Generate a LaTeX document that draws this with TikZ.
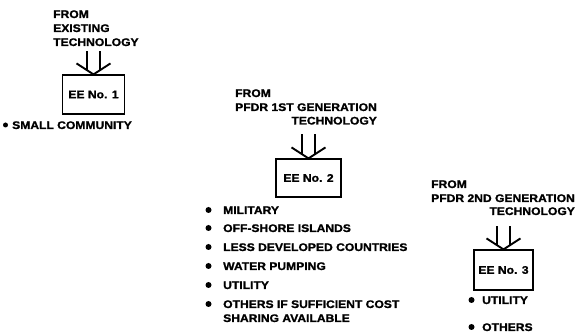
\documentclass[tikz,border=0pt]{standalone}
\usepackage{fontspec}
\setmainfont{Liberation Sans}[BoldFeatures={FakeStretch=1.1,FakeBold=1.3}]
\usetikzlibrary{calc}
\tikzset{
  txt/.style={anchor=west,inner sep=0pt,text height=8pt,text depth=0pt,font=\fontsize{11}{13}\bfseries},
  eebox/.style={draw,line width=1.2pt,inner sep=0pt,font=\fontsize{11}{13}\bfseries},
  dot/.style={circle,fill,inner sep=0pt,minimum size=#1},
  dot/.default=6pt,
  shaft/.style={line width=1.9pt,line cap=butt,line join=miter}
}
% double feed arrow ending on the top of a box
\newcommand\feedarrow[2]{%
  \draw[shaft] ($(#1.north)+(-6.5,-4.2)$) -- ++(0,-#2);
  \draw[shaft] ($(#1.north)+(6.5,-4.2)$) -- ++(0,-#2);
  \draw[shaft] ($(#1.north)+(-17,-11)$) -- (#1.north) -- ($(#1.north)+(17,-11)$);
}
\begin{document}
\begin{tikzpicture}[x=1pt,y=-1pt]
\useasboundingbox (0,0) rectangle (578,336);

% --- existing technology ---
\node[txt] (h1a) at (53,14) {FROM};
\node[txt] (h1b) at (53,28) {EXISTING};
\node[txt] (h1c) at (53,42) {TECHNOLOGY};
\node[eebox,minimum width=62pt,minimum height=39pt] (ee1) at (93.5,94.5) {EE No. 1};
\feedarrow{ee1}{19}
\node[dot=5pt] (d1) at (5.5,125) {};
\node[txt] (i1) at (12,125) {SMALL COMMUNITY};

% --- PFDR 1st generation ---
\node[txt] (h2a) at (235,93) {FROM};
\node[txt] (h2b) at (235,107) {PFDR 1ST GENERATION};
\node[txt,anchor=east] (h2c) at (h2b.east |- 0,120.5) {TECHNOLOGY};
\node[eebox,minimum width=65pt,minimum height=38pt] (ee2) at (308.5,178) {EE No. 2};
\feedarrow{ee2}{20}
\foreach \y/\t [count=\k] in {210/MILITARY,228/OFF-SHORE ISLANDS,247/LESS DEVELOPED COUNTRIES,
    266/WATER PUMPING,285/UTILITY,304/OTHERS IF SUFFICIENT COST}{
  \node[dot] (d2\k) at (208.5,\y) {};
  \node[txt] (i2\k) at (223,\y) {\t};
}
\node[txt] (i27) at (223,318) {SHARING AVAILABLE};

% --- PFDR 2nd generation ---
\node[txt] (h3a) at (431,184) {FROM};
\node[txt] (h3b) at (431,198) {PFDR 2ND GENERATION};
\node[txt,anchor=east] (h3c) at (h3b.east |- 0,211) {TECHNOLOGY};
\node[eebox,minimum width=59pt,minimum height=40pt] (ee3) at (503.5,270) {EE No. 3};
\feedarrow{ee3}{19}
\node[dot] (d31) at (471.5,300) {};
\node[txt] (i31) at (482,300) {UTILITY};
\node[dot] (d32) at (471.5,327) {};
\node[txt] (i32) at (482,327) {OTHERS};
\end{tikzpicture}
\end{document}
